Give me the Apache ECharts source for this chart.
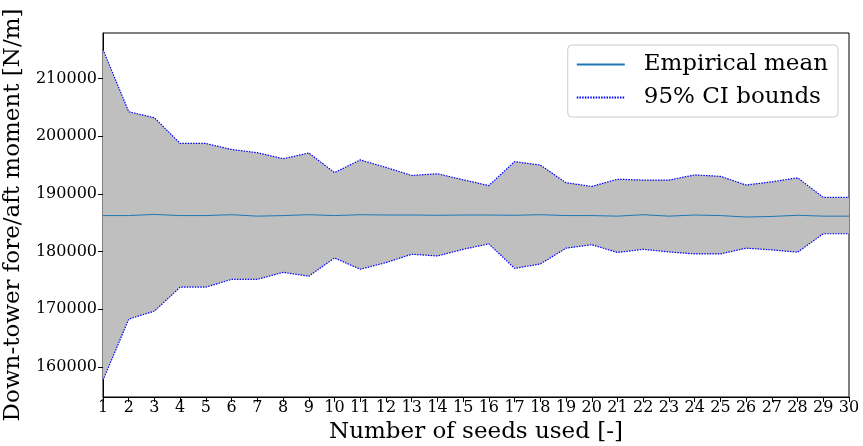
<!DOCTYPE html>
<html>
<head>
<meta charset="utf-8">
<script src="https://cdn.jsdelivr.net/npm/echarts@6/dist/echarts.min.js"></script>
<style>
  html, body { margin: 0; padding: 0; background: #fff; }
  #chart { width: 863px; height: 446px; }
</style>
</head>
<body>
<div id="chart"></div>
<script>
// data
var seeds = ['1','2','3','4','5','6','7','8','9','10','11','12','13','14','15','16','17','18','19','20','21','22','23','24','25','26','27','28','29','30'];
var meanVals = [186250,186250,186450,186250,186250,186400,186150,186250,186400,186250,
                186400,186350,186350,186300,186350,186350,186300,186400,186250,186250,
                186150,186400,186150,186350,186250,186000,186100,186300,186150,186150];
var upperVals = [215050,204250,203200,198750,198750,197700,197150,196100,197100,193700,
                 195900,194600,193200,193500,192450,191450,195600,195000,191950,191300,
                 192550,192400,192400,193300,193050,191550,192100,192800,189400,189400];
var lowerVals = [157700,168300,169700,173850,173850,175200,175200,176400,175750,178900,
                 176950,178100,179550,179250,180400,181350,177100,177850,180600,181200,
                 179850,180400,179950,179600,179600,180600,180300,179900,183100,183100];
var yTicks = [160000,170000,180000,190000,200000,210000];

var font = 'DejaVu Serif';

// band thickness stacked on top of the lower bound
var bandVals = upperVals.map(function(u,i){ return u - lowerVals[i]; });

var myChart = echarts.init(document.getElementById('chart'));
var option = {
    animation: false,
    backgroundColor: '#fff',
    grid: {
        left: 103, right: 14, top: 33, bottom: 49,
        containLabel: false, outerBoundsMode: 'none',
        show: true, borderColor: '#000', borderWidth: 1, backgroundColor: 'transparent'
    },
    legend: {
        data: ['Empirical mean', '95% CI bounds'],
        orient: 'vertical',
        right: 25, top: 45,
        padding: [8, 10, 8, 8],
        itemGap: 10,
        itemWidth: 48, itemHeight: 14,
        itemStyle: { opacity: 0 },
        backgroundColor: '#fff',
        borderColor: '#cccccc', borderWidth: 1, borderRadius: 4,
        textStyle: { fontFamily: font, fontSize: 23, color: '#000', padding: [0, 0, 0, 14] }
    },
    xAxis: {
        type: 'category',
        data: seeds,
        boundaryGap: false,
        name: 'Number of seeds used [-]',
        nameLocation: 'middle', nameGap: 22,
        nameTextStyle: { fontFamily: font, fontSize: 23, color: '#000' },
        axisLine: { onZero: false, lineStyle: { color: '#000', width: 1 } },
        axisTick: { show: true, length: 5, alignWithLabel: true, lineStyle: { color: '#000' } },
        axisLabel: { fontFamily: font, fontSize: 16, color: '#000', margin: 3, interval: 0 },
        splitLine: { show: false }
    },
    yAxis: {
        type: 'value',
        min: 154800, max: 217900,
        name: 'Down-tower fore/aft moment [N/m]',
        nameLocation: 'middle', nameGap: 64,
        nameTextStyle: { fontFamily: font, fontSize: 23, color: '#000' },
        axisLine: { show: true, lineStyle: { color: '#000', width: 1 } },
        axisTick: { show: true, length: 5, customValues: yTicks, lineStyle: { color: '#000' } },
        axisLabel: {
            fontFamily: font, fontSize: 16, color: '#000', margin: 6, customValues: yTicks,
            formatter: function(v){ return String(v); }
        },
        splitLine: { show: false }
    },
    series: [
        {
            name: 'base', type: 'line', stack: 'ci', data: lowerVals,
            symbol: 'none', lineStyle: { opacity: 0 }, silent: true, z: 1
        },
        {
            name: 'band', type: 'line', stack: 'ci', data: bandVals,
            symbol: 'none', lineStyle: { opacity: 0 },
            areaStyle: { color: '#bfbfbf', opacity: 1 }, silent: true, z: 1
        },
        {
            name: 'Empirical mean', type: 'line', data: meanVals,
            symbol: 'none', color: '#1f77b4', lineStyle: { color: '#1f77b4', width: 1 }, z: 3
        },
        {
            name: '95% CI bounds', type: 'line', data: upperVals,
            symbol: 'none', color: '#0000ff', lineStyle: { color: '#0000ff', width: 1.2, type: [1.5, 1.2] }, z: 4
        },
        {
            name: '95% CI bounds', type: 'line', data: lowerVals,
            symbol: 'none', color: '#0000ff', lineStyle: { color: '#0000ff', width: 1.2, type: [1.5, 1.2] }, z: 4
        }
    ]
};
myChart.setOption(option);
</script>
</body>
</html>
